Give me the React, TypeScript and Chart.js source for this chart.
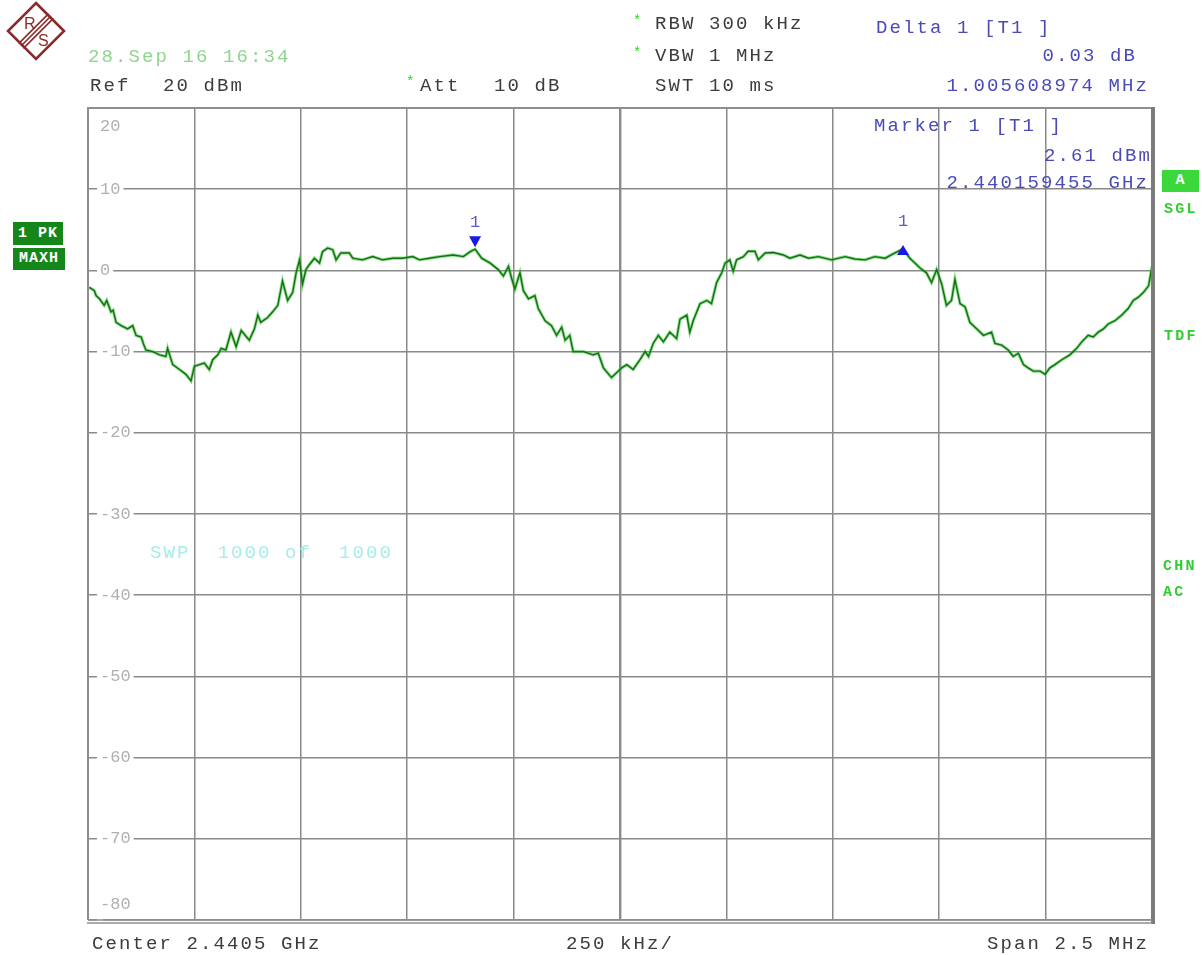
import React, { useEffect, useRef } from "react";
import { Chart, registerables } from "chart.js";

Chart.register(...registerables);

// Frequency offset from center 2.4405 GHz, in MHz
const freqOffsetMHz = [
  -1.247, -1.235, -1.231, -1.223, -1.212, -1.206, -1.196, -1.191, -1.184, -1.172,
  -1.157, -1.145, -1.137, -1.125, -1.12, -1.114, -1.098, -1.082, -1.067, -1.063,
  -1.051, -1.035, -1.02, -1.008, -1.0, -0.988, -0.977, -0.965, -0.957, -0.945,
  -0.937, -0.926, -0.914, -0.902, -0.89, -0.871, -0.859, -0.851, -0.844, -0.828,
  -0.816, -0.804, -0.793, -0.781, -0.769, -0.761, -0.753, -0.746, -0.738, -0.73,
  -0.718, -0.706, -0.699, -0.687, -0.675, -0.667, -0.656, -0.636, -0.628, -0.605,
  -0.581, -0.558, -0.534, -0.511, -0.487, -0.471, -0.448, -0.424, -0.392, -0.368,
  -0.352, -0.3405, -0.325, -0.305, -0.286, -0.274, -0.262, -0.255, -0.247, -0.235,
  -0.227, -0.215, -0.2, -0.192, -0.176, -0.161, -0.149, -0.137, -0.129, -0.118,
  -0.11, -0.086, -0.063, -0.051, -0.039, -0.02, -0.008, 0.004, 0.016, 0.031,
  0.047, 0.059, 0.067, 0.078, 0.09, 0.102, 0.117, 0.133, 0.141, 0.157,
  0.164, 0.172, 0.188, 0.204, 0.215, 0.227, 0.239, 0.247, 0.258, 0.266,
  0.274, 0.29, 0.301, 0.317, 0.325, 0.341, 0.36, 0.384, 0.399, 0.423,
  0.443, 0.466, 0.497, 0.529, 0.552, 0.576, 0.599, 0.623, 0.646, 0.665,
  0.681, 0.693, 0.705, 0.72, 0.732, 0.744, 0.756, 0.767, 0.779, 0.787,
  0.799, 0.811, 0.822, 0.838, 0.854, 0.873, 0.881, 0.897, 0.912, 0.924,
  0.936, 0.948, 0.959, 0.971, 0.987, 0.999, 1.01, 1.022, 1.038, 1.057,
  1.073, 1.085, 1.1, 1.112, 1.124, 1.136, 1.147, 1.163, 1.179, 1.194,
  1.206, 1.218, 1.23, 1.242, 1.25,
];

// Trace level, dBm (1 PK MAXH)
const levelDbm = [
  -2.1, -2.5, -3.1, -3.5, -4.3, -3.7, -5.1, -4.9, -6.4, -6.8,
  -7.2, -6.8, -8.0, -8.2, -9.0, -9.8, -10.0, -10.4, -10.6, -9.6,
  -11.6, -12.2, -12.8, -13.6, -11.8, -11.6, -11.4, -12.2, -11.0, -10.4,
  -9.6, -9.8, -7.6, -9.4, -7.4, -8.6, -7.2, -5.5, -6.4, -5.8,
  -5.1, -4.3, -1.3, -3.7, -2.7, -0.3, 1.3, -1.7, 0.1, 0.7,
  1.5, 0.9, 2.3, 2.75, 2.55, 1.3, 2.15, 2.15, 1.5, 1.3,
  1.7, 1.3, 1.5, 1.5, 1.7, 1.3, 1.5, 1.7, 1.9, 1.7,
  2.3, 2.61, 1.5, 0.9, 0.1, -0.7, 0.5, -0.9, -2.3, -0.3,
  -2.5, -3.5, -3.1, -4.7, -6.2, -6.8, -8.0, -7.0, -8.6, -8.0,
  -10.0, -10.0, -10.4, -10.2, -12.0, -13.2, -12.6, -12.0, -11.6, -12.2,
  -11.0, -10.0, -10.6, -9.0, -8.0, -8.8, -7.6, -8.4, -6.0, -5.5,
  -7.6, -6.2, -4.1, -3.7, -4.1, -1.5, -0.3, 0.9, 1.3, -0.1,
  1.3, 1.7, 2.35, 2.35, 1.3, 2.15, 2.2, 1.9, 1.5, 1.9,
  1.5, 1.7, 1.3, 1.7, 1.4, 1.3, 1.7, 1.5, 2.15, 2.64,
  1.5, 0.9, 0.3, -0.3, -1.5, 0.1, -1.7, -4.3, -3.7, -1.1,
  -4.1, -4.5, -6.4, -7.2, -8.0, -7.6, -9.0, -9.2, -9.8, -10.6,
  -10.2, -11.6, -12.0, -12.4, -12.4, -12.8, -12.0, -11.6, -11.0, -10.4,
  -9.6, -8.8, -8.0, -8.2, -7.6, -7.2, -6.6, -6.2, -5.5, -4.7,
  -3.7, -3.3, -2.7, -1.9, 0.5,
];

const yTickValues = [20, 10, 0, -10, -20, -30, -40, -50, -60, -70, -80];
const markerFreqMHz = [-0.3405, 0.665];
const markerLevelDbm = [2.61, 2.64];
const markerDirection = ["down", "up"];
const markerLabels = ["1", "1"];

const MONO = '"Liberation Mono", "DejaVu Sans Mono", monospace';

const analyzerPlugin = {
  id: "analyzer",
  afterDraw(chart: any) {
    const { ctx, chartArea: a, scales } = chart;
    const xs = scales.x;
    const ys = scales.y;
    ctx.save();
    // frame
    ctx.strokeStyle = "#8e8e8e";
    ctx.lineWidth = 2;
    ctx.beginPath();
    ctx.moveTo(a.left, a.bottom);
    ctx.lineTo(a.left, a.top);
    ctx.lineTo(a.right, a.top);
    ctx.stroke();
    ctx.strokeStyle = "#7c7c7c";
    ctx.lineWidth = 4;
    ctx.beginPath();
    ctx.moveTo(a.right + 1, a.top - 1);
    ctx.lineTo(a.right + 1, a.bottom + 4);
    ctx.stroke();
    ctx.strokeStyle = "#8e8e8e";
    ctx.lineWidth = 1.5;
    ctx.beginPath();
    ctx.moveTo(a.left, a.bottom);
    ctx.lineTo(a.right, a.bottom);
    ctx.moveTo(a.left - 1, a.bottom + 3);
    ctx.lineTo(a.right, a.bottom + 3);
    ctx.stroke();

    // top / bottom level labels
    ctx.fillStyle = "#b0b0b0";
    ctx.font = `17px ${MONO}`;
    ctx.textAlign = "left";
    ctx.textBaseline = "middle";
    ctx.fillText(String(yTickValues[0]), a.left + 12, ys.getPixelForValue(yTickValues[0]) + 18);
    ctx.fillText(
      String(yTickValues[yTickValues.length - 1]),
      a.left + 12,
      ys.getPixelForValue(yTickValues[yTickValues.length - 1]) - 16
    );

    // markers
    for (let i = 0; i < markerFreqMHz.length; i++) {
      const px = xs.getPixelForValue(markerFreqMHz[i]);
      const py = ys.getPixelForValue(markerLevelDbm[i]);
      ctx.fillStyle = "#1a1ae6";
      ctx.beginPath();
      if (markerDirection[i] === "down") {
        ctx.moveTo(px - 6, py - 13);
        ctx.lineTo(px + 6, py - 13);
        ctx.lineTo(px, py - 2);
      } else {
        ctx.moveTo(px, py - 4);
        ctx.lineTo(px + 6, py + 6);
        ctx.lineTo(px - 6, py + 6);
      }
      ctx.closePath();
      ctx.fill();
      ctx.fillStyle = "#5a5ac8";
      ctx.font = `17px ${MONO}`;
      ctx.textAlign = "center";
      ctx.fillText(markerLabels[i], px, py - 27);
    }
    ctx.restore();
  },
};

type TxtProps = {
  x: number;
  y: number;
  text: string;
  color?: string;
  right?: boolean;
  size?: number;
  spacing?: number;
  bold?: boolean;
};

function Txt({ x, y, text, color = "#3c3c3c", right = false, size = 19, spacing = 2.1, bold = false }: TxtProps) {
  const style: React.CSSProperties = {
    position: "absolute",
    top: y - size * 0.42,
    fontFamily: MONO,
    fontSize: size,
    lineHeight: `${size}px`,
    letterSpacing: `${spacing}px`,
    whiteSpace: "pre",
    color,
    fontWeight: bold ? 700 : 400,
  };
  if (right) style.right = 1202 - x - spacing;
  else style.left = x;
  return <div style={style}>{text}</div>;
}

function Box({ x, y, w, h, text, bg, color = "#ffffff" }: any) {
  return (
    <div
      style={{
        position: "absolute",
        left: x,
        top: y,
        width: w,
        height: h,
        background: bg,
        color,
        fontFamily: MONO,
        fontWeight: 700,
        fontSize: 15,
        lineHeight: `${h}px`,
        textAlign: "center",
        letterSpacing: "1px",
        whiteSpace: "pre",
      }}
    >
      {text}
    </div>
  );
}

function Logo() {
  return (
    <svg width={72} height={66} style={{ position: "absolute", left: 0, top: 0 }}>
      <polygon points="36,3 64,31 36,59 8,31" fill="#fff" stroke="#8a2a2a" strokeWidth={2.6} />
      {[-2.4, 0, 2.4].map((d) => (
        <line
          key={d}
          x1={51 + d}
          y1={16 + d}
          x2={21 + d}
          y2={46 + d}
          stroke="#8a2a2a"
          strokeWidth={1.6}
        />
      ))}
      <text x={24} y={29} fontFamily='"Liberation Sans", sans-serif' fontSize={16} fill="#8a2a2a">
        R
      </text>
      <text x={38} y={46} fontFamily='"Liberation Sans", sans-serif' fontSize={16} fill="#8a2a2a">
        S
      </text>
    </svg>
  );
}

export default function App() {
  const canvasRef = useRef<HTMLCanvasElement | null>(null);

  useEffect(() => {
    if (!canvasRef.current) return;
    const points = freqOffsetMHz.map((f, i) => ({ x: f, y: levelDbm[i] }));
    const gridWidth = (c: any) => (c.tick && Math.abs(c.tick.value) < 1e-9 ? 2.4 : 1.5);
    const chart = new Chart(canvasRef.current, {
      type: "line",
      data: {
        datasets: [
          {
            data: points,
            borderColor: "#11700f",
            borderWidth: 1.4,
            pointRadius: 0,
            tension: 0,
            fill: false,
          },
          {
            data: points,
            borderColor: "rgba(50,190,50,0.55)",
            borderWidth: 3.2,
            pointRadius: 0,
            tension: 0,
            fill: false,
          },
        ],
      },
      options: {
        responsive: false,
        animation: false,
        events: [],
        layout: { padding: { left: 88, right: 50, top: 108, bottom: 35 } },
        plugins: { legend: { display: false }, tooltip: { enabled: false } },
        scales: {
          x: {
            type: "linear",
            min: -1.25,
            max: 1.25,
            ticks: { display: false, stepSize: 0.25 },
            grid: { color: "#8a8a8a", lineWidth: gridWidth, drawTicks: false },
            border: { display: false },
            afterFit: (s: any) => {
              s.height = 0;
            },
          },
          y: {
            type: "linear",
            min: -80,
            max: 20,
            ticks: {
              stepSize: 10,
              mirror: true,
              padding: 12,
              color: "#b0b0b0",
              font: { family: MONO, size: 17 },
              showLabelBackdrop: true,
              backdropColor: "#ffffff",
              backdropPadding: { x: 3, y: 0 },
              callback: (v: any) =>
                v === yTickValues[0] || v === yTickValues[yTickValues.length - 1] ? "" : String(v),
            },
            grid: { color: "#8a8a8a", lineWidth: 1.5, drawTicks: false },
            border: { display: false },
            afterFit: (s: any) => {
              s.width = 0;
            },
          },
        },
      },
      plugins: [analyzerPlugin],
    });
    return () => chart.destroy();
  }, []);

  const blue = "#4b4bb8";
  const star = "#33cc33";
  const side = "#33cc33";

  return (
    <div style={{ position: "absolute", left: 0, top: 0, width: 1202, height: 955, background: "#fff", overflow: "hidden" }}>
      <canvas ref={canvasRef} width={1202} height={955} style={{ position: "absolute", left: 0, top: 0 }} />
      <Logo />
      <Txt x={88} y={56} text="28.Sep 16 16:34" color="#8ed68e" />
      <Txt x={90} y={85} text="Ref" />
      <Txt x={163} y={85} text="20 dBm" />
      <Txt x={406} y={81} text="*" color={star} size={14} spacing={0} />
      <Txt x={420} y={85} text="Att" />
      <Txt x={494} y={85} text="10 dB" />
      <Txt x={633} y={20} text="*" color={star} size={14} spacing={0} />
      <Txt x={655} y={23} text="RBW 300 kHz" />
      <Txt x={633} y={52} text="*" color={star} size={14} spacing={0} />
      <Txt x={655} y={55} text="VBW 1 MHz" />
      <Txt x={655} y={85} text="SWT 10 ms" />
      <Txt x={876} y={27} text="Delta 1 [T1 ]" color={blue} />
      <Txt x={1135} y={55} text="0.03 dB" color={blue} right />
      <Txt x={1147} y={85} text="1.005608974 MHz" color={blue} right />
      <Txt x={874} y={125} text="Marker 1 [T1 ]" color={blue} />
      <Txt x={1150} y={155} text="2.61 dBm" color={blue} right />
      <Txt x={1147} y={182} text="2.440159455 GHz" color={blue} right />
      <Txt x={150} y={552} text="SWP  1000 of  1000" color="#a6eee8" />
      <Txt x={92} y={943} text="Center 2.4405 GHz" />
      <Txt x={566} y={943} text="250 kHz/" />
      <Txt x={1147} y={943} text="Span 2.5 MHz" right />
      <Box x={13} y={222} w={50} h={23} text="1 PK" bg="#15861a" />
      <Box x={13} y={248} w={52} h={22} text="MAXH" bg="#15861a" />
      <Box x={1162} y={170} w={37} h={22} text="A" bg="#3ad83a" />
      <Txt x={1164} y={208} text="SGL" color={side} size={15} spacing={2.2} bold />
      <Txt x={1164} y={335} text="TDF" color={side} size={15} spacing={2.2} bold />
      <Txt x={1163} y={565} text="CHN" color={side} size={15} spacing={2.2} bold />
      <Txt x={1163} y={591} text="AC" color={side} size={15} spacing={2.2} bold />
    </div>
  );
}
